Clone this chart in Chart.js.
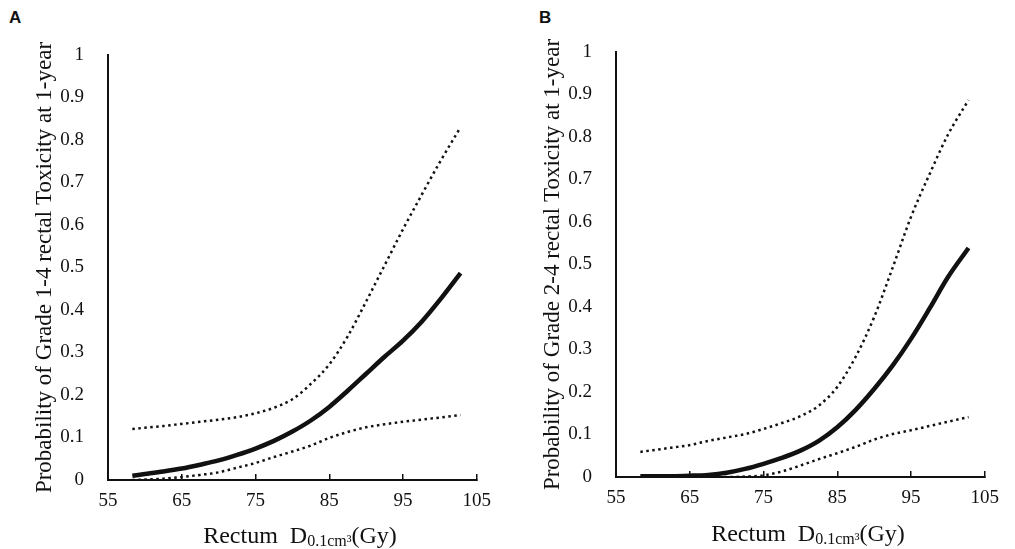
<!DOCTYPE html>
<html>
<head>
<meta charset="utf-8">
<script src="https://cdn.jsdelivr.net/npm/chart.js@4.4.1/dist/chart.umd.min.js"></script>
<style>
  body { margin: 0; background: #fff; width: 1015px; height: 549px; position: relative; overflow: hidden; }
  .panel { position: absolute; top: 0; width: 507px; height: 549px; }
  .tag { position: absolute; font: bold 17px "Liberation Sans", Arial, sans-serif; color: #111; }
  .xt { position: absolute; transform: translate(-50%, -50%); font: 24px "Liberation Serif", serif; color: #111; white-space: nowrap; }
  .xt sub { font-size: 16px; vertical-align: -3px; }
</style>
</head>
<body>
<div class="tag" style="left:9px; top:8px">A</div>
<div class="tag" style="left:539px; top:8px">B</div>
<div class="panel" style="left:0"><canvas id="chartA" width="507" height="549"></canvas></div>
<div class="panel" style="left:508px"><canvas id="chartB" width="507" height="549"></canvas></div>
<div class="xt" style="left:300px; top:536px">Rectum&nbsp;&nbsp;D<sub>0.1cm³</sub>(Gy)</div>
<div class="xt" style="left:808px; top:534px">Rectum&nbsp;&nbsp;D<sub>0.1cm³</sub>(Gy)</div>

<script>
// ================= DATA =================
const dose = [58.3, 60, 62.5, 65, 67.5, 70, 72.5, 75, 77.5, 80, 82.5, 85, 87.5, 90, 92.5, 95, 97.5, 100, 102.8];

// panel A - grade 1-4
const g14Mean  = [0.010, 0.014, 0.020, 0.027, 0.036, 0.046, 0.059, 0.074, 0.092, 0.114, 0.140, 0.172, 0.210, 0.250, 0.290, 0.328, 0.372, 0.424, 0.487];
const g14Upper = [0.120, 0.123, 0.127, 0.132, 0.137, 0.142, 0.148, 0.157, 0.170, 0.190, 0.226, 0.272, 0.338, 0.420, 0.505, 0.590, 0.670, 0.748, 0.830];
const g14Lower = [0.000, 0.001, 0.003, 0.007, 0.012, 0.018, 0.029, 0.040, 0.054, 0.067, 0.081, 0.099, 0.113, 0.124, 0.131, 0.137, 0.142, 0.147, 0.153];

// panel B - grade 2-4
const g24Mean  = [0.002, 0.002, 0.002, 0.003, 0.005, 0.010, 0.019, 0.031, 0.045, 0.062, 0.085, 0.117, 0.158, 0.207, 0.262, 0.325, 0.396, 0.470, 0.539];
const g24Upper = [0.059, 0.063, 0.069, 0.075, 0.085, 0.093, 0.101, 0.113, 0.127, 0.143, 0.168, 0.212, 0.283, 0.376, 0.492, 0.612, 0.712, 0.805, 0.887];
const g24Lower = [0.000, 0.000, 0.000, 0.000, 0.000, 0.000, 0.001, 0.004, 0.013, 0.027, 0.042, 0.056, 0.071, 0.088, 0.101, 0.110, 0.120, 0.130, 0.141];

const xTicks = [55, 65, 75, 85, 95, 105];
const yTicks = [0, 0.1, 0.2, 0.3, 0.4, 0.5, 0.6, 0.7, 0.8, 0.9, 1];

const titleA = "Probability of Grade 1-4 rectal Toxicity at 1-year";
const titleB = "Probability of Grade 2-4 rectal Toxicity at 1-year";

// ================= HELPERS =================
const serif = "'Liberation Serif', 'Times New Roman', serif";
const ink = "#111";

function pts(ys) {
  return ys.map((y, i) => ({ x: dose[i], y: y }));
}

function line(ys, dotted) {
  return {
    data: pts(ys),
    borderColor: ink,
    borderWidth: dotted ? 2.5 : 4.5,
    borderDash: dotted ? [2.5, 3.5] : [],
    pointRadius: 0,
    fill: false,
    cubicInterpolationMode: "monotone"
  };
}

function makeChart(id, mean, upper, lower, yTitle, top) {
  return new Chart(document.getElementById(id), {
    type: "line",
    data: { datasets: [line(upper, true), line(lower, true), line(mean, false)] },
    options: {
      responsive: false,
      animation: false,
      layout: { padding: { top: top, right: 15, left: 0, bottom: 0 } },
      plugins: { legend: { display: false }, tooltip: { enabled: false } },
      scales: {
        x: {
          type: "linear",
          min: 55, max: 105,
          afterBuildTicks: s => { s.ticks = xTicks.map(v => ({ value: v })); },
          afterFit: s => { s.height = 549 - 425 - top; },
          grid: { drawOnChartArea: false, drawTicks: true, tickLength: -6, color: ink, lineWidth: 1.5 },
          border: { display: true, color: ink, width: 2 },
          ticks: { color: ink, padding: 16, maxRotation: 0, font: { family: serif, size: 19 } }
        },
        y: {
          min: 0, max: 1,
          afterBuildTicks: s => { s.ticks = yTicks.map(v => ({ value: v })); },
          afterFit: s => { s.width = 108; },
          grid: { display: false },
          border: { display: true, color: ink, width: 2 },
          ticks: { color: ink, padding: 16, font: { family: serif, size: 19 }, callback: v => String(v) },
          title: { display: true, text: yTitle, color: ink, padding: { top: 31, bottom: 0 }, font: { family: serif, size: 23 } }
        }
      }
    }
  });
}

makeChart("chartA", g14Mean, g14Upper, g14Lower, titleA, 55);
makeChart("chartB", g24Mean, g24Upper, g24Lower, titleB, 52);
</script>
</body>
</html>
